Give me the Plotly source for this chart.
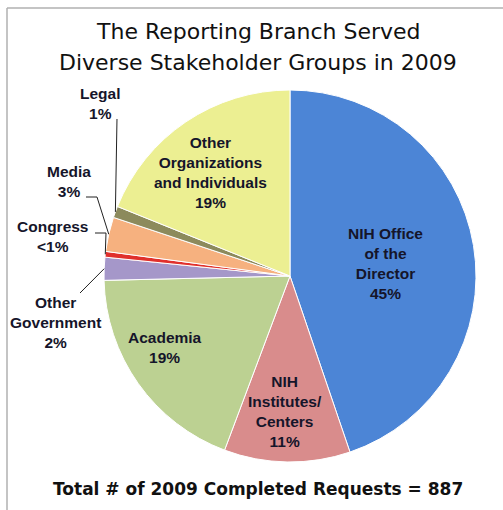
import math
import plotly.graph_objects as go

# ---- data ----
categories = ["NIH Office of the Director", "NIH Institutes/Centers", "Academia",
              "Other Government", "Congress", "Media", "Legal",
              "Other Organizations and Individuals"]
percent_values = [45, 11, 19, 2, 0.5, 3, 1, 19]
percent_labels = ["45%", "11%", "19%", "2%", "<1%", "3%", "1%", "19%"]
display_names = ["NIH Office<br>of the<br>Director", "NIH<br>Institutes/<br>Centers", "Academia",
                 "Other<br>Government", "Congress", "Media", "Legal",
                 "Other<br>Organizations<br>and Individuals"]
colors = ["#4c85d6", "#d98c8c", "#bcd192", "#a597c9", "#e0302c", "#f6b17f", "#8c8a5c", "#ecef92"]
title_lines = ["The Reporting Branch Served", "Diverse Stakeholder Groups in 2009"]
footer_text = "Total # of 2009 Completed Requests = 887"

W, H = 503, 510
CX, CY, R = 290, 276, 186  # pie centre / radius in pixels


def px(x):
    return x / W


def py(y):
    return 1 - y / H


fig = go.Figure(go.Pie(
    labels=categories,
    values=percent_values,
    sort=False,
    direction="clockwise",
    rotation=0,
    marker=dict(colors=colors, line=dict(color="white", width=1)),
    textinfo="none",
    hoverinfo="label+percent",
    showlegend=False,
    domain=dict(x=[px(CX - R), px(CX + R)], y=[py(CY + R), py(CY - R)]),
))

# rim point for each slice's mid-angle, computed from the values
total = sum(percent_values)
rim = []
cum = 0
for v in percent_values:
    mid = (cum + v / 2) / total * 2 * math.pi
    rim.append((CX + R * math.sin(mid), CY - R * math.cos(mid)))
    cum += v

font_in = dict(family="Liberation Sans, Arial", size=15.5, color="#15152a")

# label pixel positions (layout)
inside_pos = {0: (385, 263), 1: (285, 411), 2: (165, 347), 7: (210, 172)}
outside_pos = {6: (100, 104), 5: (69, 181), 4: (53, 236), 3: (55, 322)}


def ann(x, y, text, font):
    return dict(x=px(x), y=py(y), xref="paper", yref="paper", text=text,
                showarrow=False, font=font, align="center",
                xanchor="center", yanchor="middle")


annotations = []
for pos in (inside_pos, outside_pos):
    for i, (x, y) in pos.items():
        annotations.append(ann(x, y, "<b>%s<br>%s</b>" % (display_names[i], percent_labels[i]), font_in))

title_font = dict(family="DejaVu Sans", size=22, color="#111")
annotations.append(ann(258, 31, title_lines[0], title_font))
annotations.append(ann(258, 62, title_lines[1], title_font))
annotations.append(ann(258, 489, "<b>%s</b>" % footer_text,
                       dict(family="DejaVu Sans", size=17, color="#111")))

line_style = dict(color="#222", width=1)
shapes = []
# leader lines (label-side elbows are layout, slice-side points from data)
leaders = {
    6: [(117, 119)],
    5: [(86, 197), (97, 197)],
    4: [(95, 233), (106, 233)],
    3: [(80, 293)],
}
for i, pts in leaders.items():
    allpts = pts + [rim[i]]
    path = "M %f,%f" % (px(allpts[0][0]), py(allpts[0][1]))
    for (x, y) in allpts[1:]:
        path += " L %f,%f" % (px(x), py(y))
    shapes.append(dict(type="path", xref="paper", yref="paper", path=path, line=line_style))

# frame (top and left)
shapes.append(dict(type="line", xref="paper", yref="paper", x0=px(7), x1=1, y0=py(8), y1=py(8),
                   line=dict(color="#b0b0b0", width=1.5)))
shapes.append(dict(type="line", xref="paper", yref="paper", x0=px(7), x1=px(7), y0=py(8), y1=0,
                   line=dict(color="#b0b0b0", width=1.5)))

fig.update_layout(
    width=W, height=H,
    margin=dict(l=0, r=0, t=0, b=0),
    paper_bgcolor="white",
    plot_bgcolor="white",
    annotations=annotations,
    shapes=shapes,
)

fig.write_html("out.html")
